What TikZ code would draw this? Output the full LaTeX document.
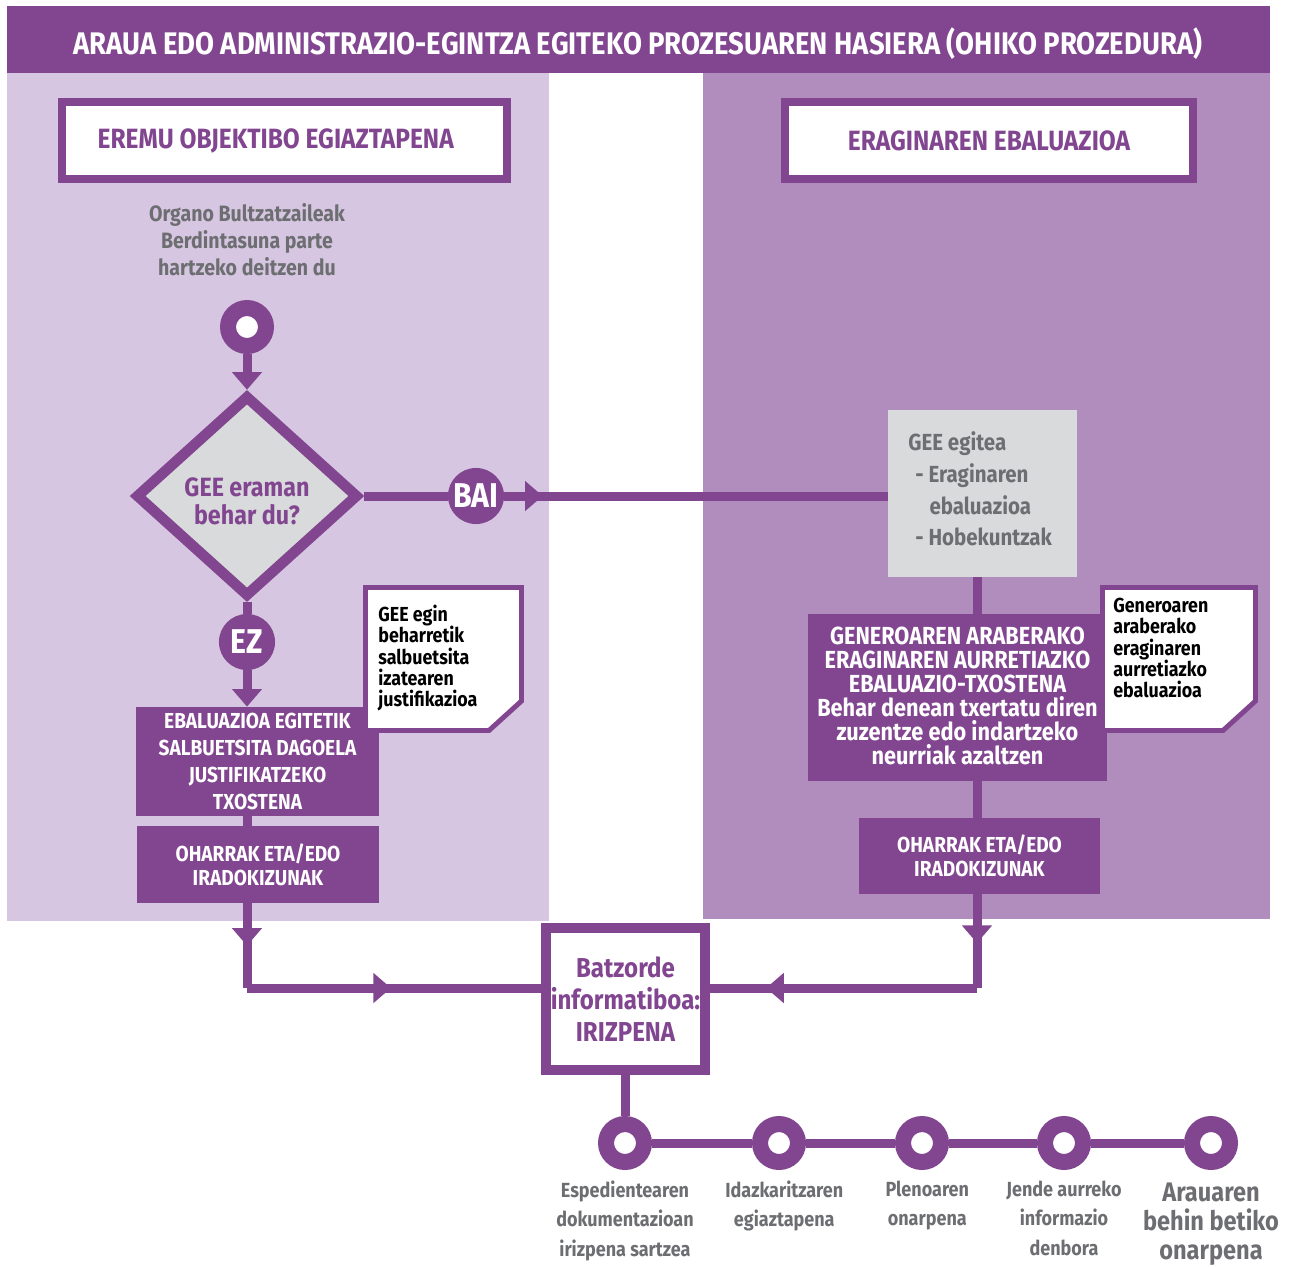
\documentclass[tikz,border=0pt]{standalone}
\usepackage{fontspec}
\setmainfont{Fira Sans}[FakeStretch=0.88]
\usetikzlibrary{arrows.meta,decorations.markings,shapes.geometric,positioning}

\definecolor{plum}{RGB}{130,70,145}
\definecolor{lilac}{RGB}{215,198,225}
\definecolor{mauve}{RGB}{177,141,190}
\definecolor{pale}{RGB}{217,218,219}
\definecolor{ink}{RGB}{109,110,113}

\tikzset{
	flow/.style={draw=plum, line width=5.1pt},
	endtip/.style={-{Triangle[width=16.5pt,length=10pt]}},
	midtip/.style={postaction={decorate}, decoration={markings, mark=at position #1 with {\arrow{Triangle[width=16.5pt,length=10pt]}}}},
	ring/.style={circle, draw=plum, fill=white, line width=9.1pt, minimum size=21.5pt, inner sep=0pt},
	badge/.style={circle, fill=plum, text=white, minimum size=31.8pt, inner sep=0pt, font=\fontsize{19.5}{21}\selectfont\bfseries},
	headbox/.style={draw=plum, fill=white, line width=4.5pt, text=plum, inner sep=0pt, font=\fontsize{15.8}{18}\selectfont\bfseries},
	filledbox/.style={fill=plum, text=white, align=center, inner sep=0pt, font=\fontsize{12.3}{15.3}\selectfont\bfseries},
	docpage/.style={draw=plum, fill=white, line width=2.8pt},
	doctext/.style={anchor=north west, align=left, inner sep=0pt, font=\fontsize{11.5}{12}\selectfont\bfseries},
	greytext/.style={text=ink, align=center, inner sep=0pt, font=\fontsize{11.6}{16.7}\selectfont\bfseries},
}

\begin{document}
\begin{tikzpicture}[x=0.567pt, y=-0.567pt]
	%%%%% START %%%%%
	\useasboundingbox (0,0) rectangle (1290,1267);
	
	% panels and title
	\fill[lilac] (7,73) rectangle (549,921);
	\fill[mauve] (703,73) rectangle (1270,919);
	\fill[plum] (7,6) rectangle (1270,73);
	\node[text=white, font=\fontsize{17.7}{20}\selectfont\bfseries] (title) at (638,44) {ARAUA EDO ADMINISTRAZIO-EGINTZA EGITEKO PROZESUAREN HASIERA (OHIKO PROZEDURA)};
	
	\node[headbox, minimum width=252pt, minimum height=43.7pt] (lhead) at (284.5,140.5) {\hspace*{-10pt}EREMU OBJEKTIBO EGIAZTAPENA};
	\node[headbox, minimum width=231.3pt, minimum height=43.7pt] (rhead) at (989,140.5) {ERAGINAREN EBALUAZIOA};
	
	% left column
	\node[greytext, font=\fontsize{12.6}{15.3}\selectfont\bfseries] (organo) at (247,240) {Organo Bultzatzaileak\\Berdintasuna parte\\hartzeko deitzen du};
	\node[ring] (start) at (247,327) {};
	\node[diamond, draw=plum, fill=pale, line width=6pt, minimum width=126.5pt, minimum height=114.5pt, inner sep=0pt] (gee) at (247,496) {};
	\node[text=plum, align=center, inner sep=0pt, font=\fontsize{15}{16}\selectfont\bfseries] (geetext) at (247,501) {GEE eraman\\behar du?};
	\node[badge] (bai) at (476,496) {BAI};
	\node[badge] (ez) at (247,642) {EZ};
	\node[filledbox, minimum width=137.8pt, minimum height=61.8pt] (salb) at (257.5,761.5) {EBALUAZIOA EGITETIK\\SALBUETSITA DAGOELA\\JUSTIFIKATZEKO\\TXOSTENA};
	\node[filledbox, minimum width=137.2pt, minimum height=43.7pt, font=\fontsize{12.3}{13.6}\selectfont\bfseries] (loharrak) at (258,864.5) {OHARRAK ETA/EDO\\IRADOKIZUNAK};
	
	\draw[docpage] (365.5,587.5) -- (521.5,587.5) -- (521.5,701) -- (489,730.5) -- (365.5,730.5) -- cycle;
	\node[doctext] (ldoc) at (378,605) {GEE egin\\beharretik\\salbuetsita\\izatearen\\justifikazioa};
	
	% right column
	\node[fill=pale, minimum width=107.2pt, minimum height=94.7pt, inner sep=0pt] (egitea) at (982.5,493.5) {};
	\node[text=ink, anchor=west, align=left, inner sep=0pt, font=\fontsize{13.2}{18}\selectfont\bfseries] (egiteatxt) at (908,489) {GEE egitea\\\hspace*{4pt}- Eraginaren\\\hspace*{12pt}ebaluazioa\\\hspace*{4pt}- Hobekuntzak};
	\node[filledbox, minimum width=169.5pt, minimum height=94.7pt, font=\fontsize{14}{13.6}\selectfont\bfseries] (txosten) at (957.5,697.5) {\\[-5pt]GENEROAREN ARABERAKO\\ERAGINAREN AURRETIAZKO\\EBALUAZIO-TXOSTENA\\Behar denean txertatu diren\\zuzentze edo indartzeko\\neurriak azaltzen};
	\node[filledbox, minimum width=136.6pt, minimum height=43.1pt, font=\fontsize{12.3}{13.6}\selectfont\bfseries] (roharrak) at (979.5,856) {OHARRAK ETA/EDO\\IRADOKIZUNAK};
	
	\draw[docpage] (1102.5,587.5) -- (1255.5,587.5) -- (1255.5,701) -- (1223,730.5) -- (1102.5,730.5) -- cycle;
	\node[doctext] (rdoc) at (1113,598) {Generoaren\\araberako\\eraginaren\\aurretiazko\\ebaluazioa};
	
	% committee
	\node[draw=plum, fill=white, line width=5.7pt, minimum width=90.2pt, minimum height=80.5pt, inner sep=0pt, text=plum, align=center, font=\fontsize{15.5}{18}\selectfont\bfseries] (batz) at (625.5,999) {Batzorde\\informatiboa:\\IRIZPENA};
	\coordinate (lcorner) at (247,988);
	\coordinate (rcorner) at (977,988);
	
	% final steps
	\node[ring] (s1) at (625,1143) {};
	\node[ring] (s2) at (779,1143) {};
	\node[ring] (s3) at (922,1143) {};
	\node[ring] (s4) at (1064,1143) {};
	\node[ring] (s5) at (1211,1143) {};
	\node[greytext, below=6pt of s1] (l1) {Espedientearen\\dokumentazioan\\irizpena sartzea};
	\node[greytext, below=6pt of s2, xshift=3pt] (l2) {Idazkaritzaren\\egiaztapena};
	\node[greytext, below=6pt of s3, xshift=3pt] (l3) {Plenoaren\\onarpena};
	\node[greytext, below=6pt of s4] (l4) {Jende aurreko\\informazio\\denbora};
	\node[greytext, below=7pt of s5, font=\fontsize{15.2}{16.6}\selectfont\bfseries] (l5) {Arauaren\\behin betiko\\onarpena};
	
	% connectors
	\draw[flow, endtip] (start) -- (gee.north);
	\draw[flow] (gee.east) -- (bai);
	\draw[flow, midtip=0.1] (bai) -- (bai -| egitea.west);
	\draw[flow] (gee.south) -- (ez);
	\draw[flow, endtip] (ez) -- (ez |- salb.north);
	\draw[flow] (salb.south -| ez) -- (loharrak.north -| ez);
	\draw[flow, midtip=0.5] (loharrak.south -| ez) -- (lcorner);
	\draw[flow, midtip=0.49] (lcorner) -- (batz.west |- lcorner);
	
	\draw[flow] (egitea.south -| rcorner) -- (txosten.north -| rcorner);
	\draw[flow] (txosten.south -| rcorner) -- (roharrak.north -| rcorner);
	\draw[flow, midtip=0.52] (roharrak.south -| rcorner) -- (rcorner);
	\draw[flow, midtip=0.79] (rcorner) -- (batz.east |- rcorner);
	
	\draw[flow] (batz.south -| s1) -- (s1);
	\draw[flow] (s1) -- (s2);
	\draw[flow] (s2) -- (s3);
	\draw[flow] (s3) -- (s4);
	\draw[flow] (s4) -- (s5);
	%%%%% END %%%%%
\end{tikzpicture}
\end{document}
